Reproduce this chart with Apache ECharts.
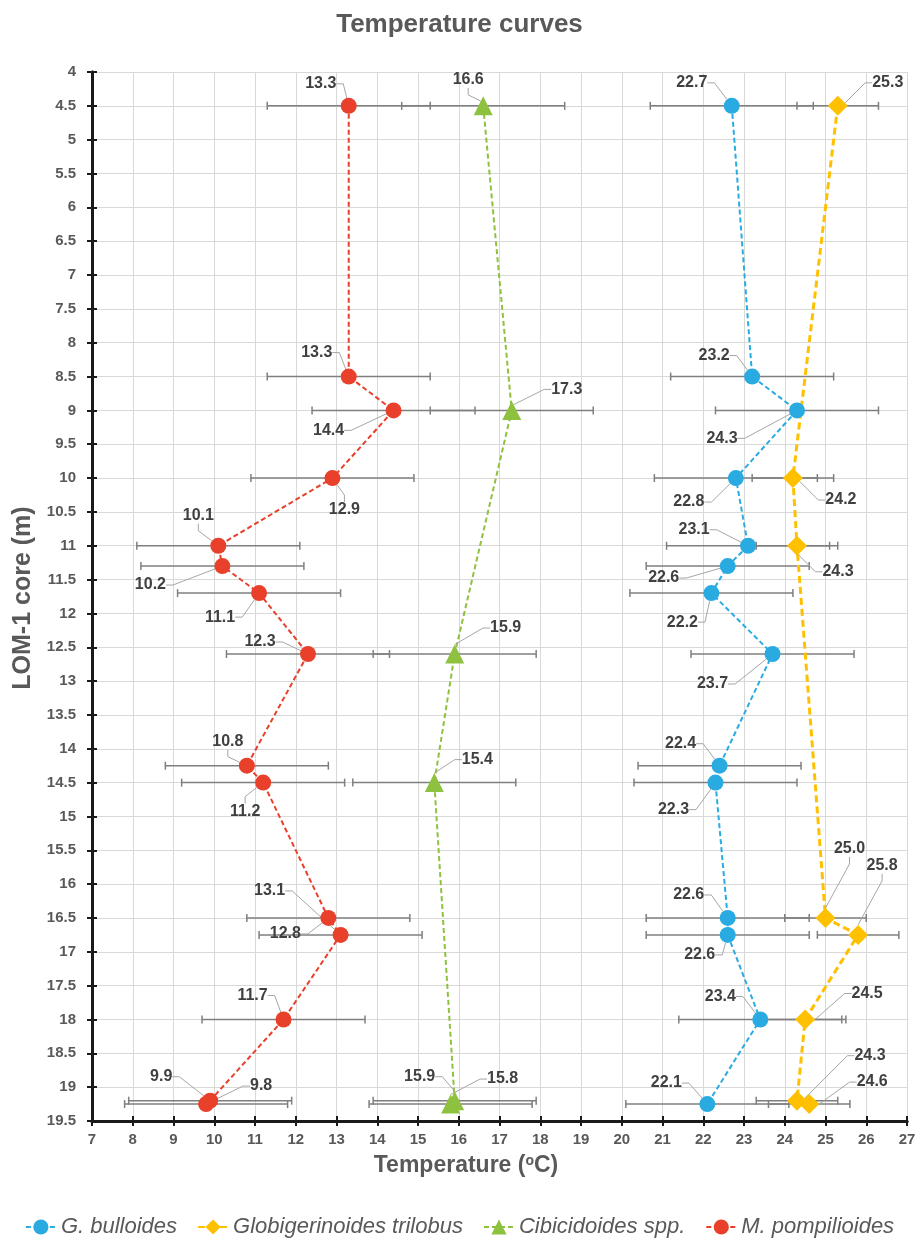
<!DOCTYPE html>
<html>
<head>
<meta charset="utf-8">
<title>Temperature curves</title>
<script src="https://cdn.jsdelivr.net/npm/echarts@6/dist/echarts.min.js"></script>
<style>
  html, body { margin: 0; padding: 0; background: #ffffff; }
  #chart { width: 919px; height: 1255px; }
</style>
</head>
<body>
<div id="chart"></div>
<script>
// ---- Data: core depth (m) and estimated temperature (°C) per taxon ----
const bullDepth = [4.5, 8.5, 9, 10, 11, 11.3, 11.7, 12.6, 14.25, 14.5, 16.5, 16.75, 18, 19.25];
const bullTemp  = [22.7, 23.2, 24.3, 22.8, 23.1, 22.6, 22.2, 23.7, 22.4, 22.3, 22.6, 22.6, 23.4, 22.1];

const trilDepth = [4.5, 10, 11, 16.5, 16.75, 18, 19.2, 19.25];
const trilTemp  = [25.3, 24.2, 24.3, 25.0, 25.8, 24.5, 24.3, 24.6];

const cibiDepth = [4.5, 9, 12.6, 14.5, 19.2, 19.25];
const cibiTemp  = [16.6, 17.3, 15.9, 15.4, 15.9, 15.8];

const pompDepth = [4.5, 8.5, 9, 10, 11, 11.3, 11.7, 12.6, 14.25, 14.5, 16.5, 16.75, 18, 19.2, 19.25];
const pompTemp  = [13.3, 13.3, 14.4, 12.9, 10.1, 10.2, 11.1, 12.3, 10.8, 11.2, 12.8, 13.1, 11.7, 9.9, 9.8];

// Error (±°C) for each taxon
const bullErr = 2;
const trilErr = 1;
const cibiErr = 2;
const pompErr = 2;

const seriesNames = ['G. bulloides', 'Globigerinoides trilobus', 'Cibicidoides spp.', 'M. pompilioides'];

// Axis ranges
const tempMin = 7, tempMax = 27, tempStep = 1;
const depthMin = 4, depthMax = 19.5, depthStep = 0.5;

// ---- Label placement: offset (px) of each value label from its marker ----
const bullLabelOffsets = [[-40,-23],[-38,-21],[-75,28],[-47,24],[-54,-16],[-64,12],[-29,29],[-60,30],[-39,-22],[-42,27],[-39,-23],[-28,20],[-40,-23],[-41,-21]];
const trilLabelOffsets = [[50,-23],[48,22],[41,26],[24,-69],[24,-69],[62,-26],[73,-45],[63,-22]];
const cibiLabelOffsets = [[-15,-26],[55,-21],[51,-26],[43,-23],[-35,-24],[52,-25]];
const pompLabelOffsets = [[-28,-22],[-32,-24],[-65,20],[12,32],[-20,-30],[-72,19],[-39,24],[-48,-12],[-19,-24],[-18,29],[-43,16],[-71,-44],[-31,-24],[-49,-24],[55,-18]];

const FONT = '"Liberation Sans", Arial, Helvetica, sans-serif';
const AXIS_GRAY = '#595959';
const LABEL_DARK = '#404040';
const AXIS_BLACK = '#1a1a1a';
const GRID_BOX = { left: 92, right: 12, top: 72, bottom: 134 };

function pairs(temps, depths) {
  return temps.map((t, i) => [t, depths[i]]);
}

function labelLayoutFrom(offsets) {
  return function (params) {
    const r = params.rect;
    const o = offsets[params.dataIndex] || [0, -20];
    return {
      x: r.x + r.width / 2 + o[0],
      y: r.y + r.height / 2 + o[1],
      align: 'center',
      verticalAlign: 'middle'
    };
  };
}

function lineSeries(name, temps, depths, color, symbol, size, width, dash, offsets) {
  return {
    type: 'line',
    name: name,
    data: pairs(temps, depths),
    symbol: symbol,
    symbolSize: size,
    showAllSymbol: true,
    z: 4,
    lineStyle: { color: color, width: width, type: dash },
    itemStyle: { color: color },
    label: {
      show: true,
      formatter: p => p.value[0].toFixed(1),
      fontFamily: FONT,
      fontSize: 16,
      fontWeight: 'bold',
      color: LABEL_DARK
    },
    labelLine: {
      show: true,
      length2: 7,
      lineStyle: { color: '#a6a6a6', width: 1 }
    },
    labelLayout: labelLayoutFrom(offsets),
    emphasis: { disabled: true }
  };
}

function errorSeries(name, temps, depths, err) {
  return {
    type: 'custom',
    name: name + ' error',
    silent: true,
    z: 2,
    data: temps.map((t, i) => [t - err, t + err, depths[i]]),
    encode: { x: [0, 1], y: 2 },
    renderItem: function (params, api) {
      const d = api.value(2);
      const a = api.coord([api.value(0), d]);
      const b = api.coord([api.value(1), d]);
      const cap = 4;
      const style = { stroke: '#7f7f7f', lineWidth: 1.5 };
      return {
        type: 'group',
        children: [
          { type: 'line', shape: { x1: a[0], y1: a[1], x2: b[0], y2: b[1] }, style: style },
          { type: 'line', shape: { x1: a[0], y1: a[1] - cap, x2: a[0], y2: a[1] + cap }, style: style },
          { type: 'line', shape: { x1: b[0], y1: b[1] - cap, x2: b[0], y2: b[1] + cap }, style: style }
        ]
      };
    }
  };
}

// Shared axis settings; the second grid repeats the axes with inner ticks so
// each tick crosses the axis line.
function tempAxis(gridIndex, inner) {
  return {
    type: 'value',
    gridIndex: gridIndex,
    min: tempMin,
    max: tempMax,
    interval: tempStep,
    position: 'bottom',
    axisLine: { onZero: false, lineStyle: { color: AXIS_BLACK, width: 3 } },
    axisTick: { show: true, inside: inner, length: 5, lineStyle: { color: AXIS_BLACK, width: 2 } },
    axisLabel: inner ? { show: false } : { margin: 11, fontFamily: FONT, fontSize: 15, fontWeight: 'bold', color: AXIS_GRAY },
    splitLine: inner ? { show: false } : { show: true, lineStyle: { color: '#d9d9d9', width: 1 } }
  };
}

function depthAxis(gridIndex, inner) {
  return {
    type: 'value',
    gridIndex: gridIndex,
    inverse: true,
    min: depthMin,
    max: depthMax,
    interval: depthStep,
    position: 'left',
    axisLine: { onZero: false, lineStyle: { color: AXIS_BLACK, width: 3 } },
    axisTick: { show: true, inside: inner, length: 5, lineStyle: { color: AXIS_BLACK, width: 2 } },
    axisLabel: inner ? { show: false } : { margin: 16, fontFamily: FONT, fontSize: 15, fontWeight: 'bold', color: AXIS_GRAY },
    splitLine: inner ? { show: false } : { show: true, lineStyle: { color: '#d9d9d9', width: 1 } }
  };
}

const chart = echarts.init(document.getElementById('chart'), null, { renderer: 'canvas' });

const option = {
  backgroundColor: '#ffffff',
  animation: false,
  textStyle: { fontFamily: FONT },
  title: {
    text: 'Temperature curves',
    left: 'center',
    top: 7,
    textStyle: { fontFamily: FONT, fontSize: 26, fontWeight: 'bold', color: AXIS_GRAY }
  },
  grid: [Object.assign({}, GRID_BOX), Object.assign({}, GRID_BOX)],
  legend: {
    data: seriesNames,
    left: 'center',
    top: 1211,
    itemWidth: 30,
    itemHeight: 19,
    itemGap: 20,
    textStyle: { fontFamily: FONT, fontSize: 22, fontStyle: 'italic', color: AXIS_GRAY }
  },
  xAxis: [tempAxis(0, false), tempAxis(1, true)],
  yAxis: [depthAxis(0, false), depthAxis(1, true)],
  graphic: [
    {
      type: 'text',
      x: 466,
      y: 1166,
      style: {
        text: 'Temperature ({sup|o}C)',
        align: 'center',
        verticalAlign: 'middle',
        fontFamily: FONT,
        fontSize: 23,
        fontWeight: 'bold',
        fill: AXIS_GRAY,
        rich: {
          sup: { fontFamily: FONT, fontSize: 14, fontWeight: 'bold', fill: AXIS_GRAY, verticalAlign: 'top', padding: [0, 0, 10, 0] }
        }
      }
    },
    {
      type: 'text',
      x: 23,
      y: 598,
      rotation: Math.PI / 2,
      style: {
        text: 'LOM-1 core (m)',
        align: 'center',
        verticalAlign: 'middle',
        fontFamily: FONT,
        fontSize: 25,
        fontWeight: 'bold',
        fill: AXIS_GRAY
      }
    }
  ],
  series: [
    errorSeries(seriesNames[0], bullTemp, bullDepth, bullErr),
    errorSeries(seriesNames[1], trilTemp, trilDepth, trilErr),
    errorSeries(seriesNames[2], cibiTemp, cibiDepth, cibiErr),
    errorSeries(seriesNames[3], pompTemp, pompDepth, pompErr),
    lineSeries(seriesNames[0], bullTemp, bullDepth, '#29abe2', 'circle', 16, 2, [5, 3], bullLabelOffsets),
    lineSeries(seriesNames[1], trilTemp, trilDepth, '#ffc000', 'diamond', 20, 3, [7, 4], trilLabelOffsets),
    lineSeries(seriesNames[2], cibiTemp, cibiDepth, '#8dc13f', 'triangle', 19, 2, [5, 3], cibiLabelOffsets),
    lineSeries(seriesNames[3], pompTemp, pompDepth, '#e8402a', 'circle', 16, 2, [5, 3], pompLabelOffsets)
  ]
};

chart.setOption(option);
</script>
</body>
</html>
